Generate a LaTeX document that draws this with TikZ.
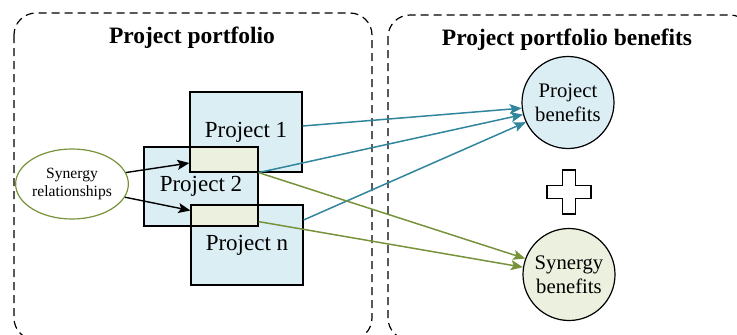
\documentclass[tikz,border=0pt]{standalone}
\usepackage{fontspec}
\setmainfont{Liberation Serif}
\usetikzlibrary{arrows.meta,shapes.geometric}

\definecolor{projfill}{HTML}{DBEEF4}
\definecolor{synfill}{HTML}{EBF1DE}
\definecolor{tealline}{HTML}{31859C}
\definecolor{greenline}{HTML}{77933C}

\tikzset{
  groupbox/.style={draw=black, line width=1.2pt, dash pattern=on 8pt off 5pt, rounded corners=22pt},
  grouptitle/.style={font=\fontsize{23.5}{28}\selectfont\bfseries, inner sep=0pt},
  projbox/.style={draw=black, line width=1.2pt, fill=projfill, inner sep=0pt,
    font=\fontsize{23}{27}\selectfont},
  overlapbox/.style={draw=black, line width=1.2pt, fill=synfill, inner sep=0pt},
  synrel/.style={ellipse, draw=greenline, line width=1.2pt, fill=white, inner sep=0pt,
    minimum width=108pt, minimum height=70pt, align=center,
    font=\fontsize{15.6}{18}\selectfont},
  benefit/.style={circle, draw=black, line width=1.2pt, inner sep=0pt,
    minimum size=92pt, align=center, font=\fontsize{20.7}{24}\selectfont},
  linkarrow/.style={line width=1.5pt, -{Stealth[length=12pt,width=10pt,inset=2.5pt]}},
  relarrow/.style={draw=black, line width=1.4pt, -{Stealth[length=12pt,width=10pt,inset=2.5pt]}},
  plusshape/.style={draw=black, line width=1.3pt, fill=white},
}

\begin{document}
\begin{tikzpicture}[x=1pt, y=-1pt]
  \useasboundingbox (0,0) rectangle (737,335);

  % the two dashed groups
  \draw[groupbox] (14,13) rectangle (372,340);
  \draw[groupbox] (388,15) rectangle (752,340);
  \node[grouptitle] (tleft) at (192,38) {Project portfolio};
  \node[grouptitle] (tright) at (567,40) {Project portfolio benefits};

  % projects and their shared parts
  \node[projbox, minimum width=112pt, minimum height=80pt] (p1) at (246,132) {Project 1};
  \node[projbox, minimum width=114pt, minimum height=79pt] (p2) at (201,186.5) {Project 2};
  \node[projbox, minimum width=112pt, minimum height=80pt] (pn) at (247,245) {Project n};
  \node[overlapbox, minimum width=68pt, minimum height=25pt] (o1) at (224,159.5) {};
  \node[overlapbox, minimum width=67pt, minimum height=21pt] (o2) at (224.5,215.5) {};

  % synergy relationships
  \node[synrel] (syn) at (72,184) {Synergy\\relationships};
  \draw[relarrow] (syn.12) -- ([yshift=-3.5pt]o1.west);
  \draw[relarrow] (syn.-14) -- ([yshift=5pt]o2.west);

  % benefits
  \node[benefit, fill=projfill] (pb) at (568,102.5) {Project\\benefits};
  \node[benefit, fill=synfill] (sb) at (569,274.5) {Synergy\\benefits};

  % plus sign between the benefits
  \draw[plusshape] (562.5,170) -- (575.5,170) -- (575.5,185.5) -- (591,185.5)
    -- (591,198.5) -- (575.5,198.5) -- (575.5,214) -- (562.5,214) -- (562.5,198.5)
    -- (547,198.5) -- (547,185.5) -- (562.5,185.5) -- cycle;

  % contributions
  \draw[linkarrow, draw=tealline] ([yshift=6pt]p1.east) -- (pb.187);
  \draw[linkarrow, draw=tealline] (o1.south east) -- (pb.195);
  \draw[linkarrow, draw=tealline] ([yshift=25pt]pn.east) -- (pb.205);
  \draw[linkarrow, draw=greenline] (o1.south east) -- (sb.160);
  \draw[linkarrow, draw=greenline] ([yshift=5pt]o2.south east) -- (sb.171);
\end{tikzpicture}
\end{document}
